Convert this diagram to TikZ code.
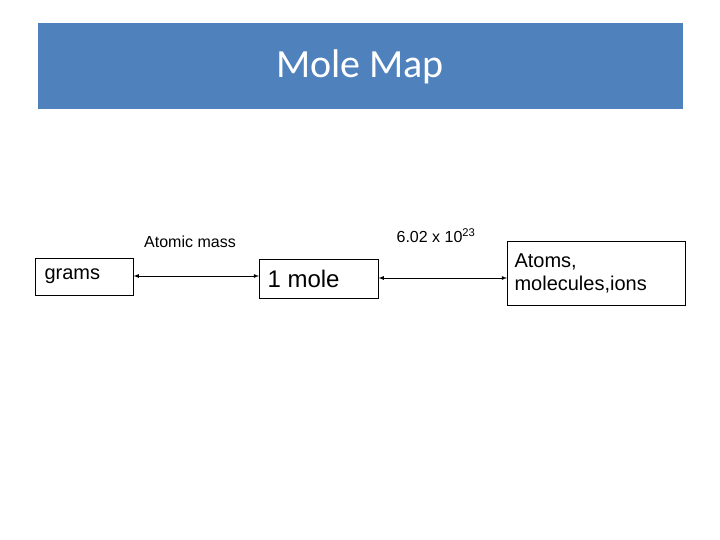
\documentclass[tikz,border=0pt]{standalone}
\usepackage{fontspec}
\setmainfont{Liberation Sans}
\newfontfamily\titlefont{Carlito}
\definecolor{band}{HTML}{4F81BD}
\begin{document}
\begin{tikzpicture}[x=1pt,y=-1pt,
  box/.style={draw=black,line width=0.6pt,inner sep=0pt,anchor=north west},
  arr/.style={<->,>=latex,line width=0.8pt}]
\useasboundingbox (0,0) rectangle (720,540);
\fill[band] (38,23) rectangle (683,109);
\node[text=white,font=\titlefont\fontsize{40}{44}\selectfont] (title) at (360,67) {Mole Map};
\node[box,minimum width=98pt,minimum height=37pt] (grams) at (35,258) {};
\node[font=\fontsize{20}{22}\selectfont,anchor=west] at (41,276) {grams};
\node[box,minimum width=119pt,minimum height=39pt] (mole) at (259,259) {};
\node[font=\fontsize{24}{26}\selectfont,anchor=west] at (264,279) {1 mole};
\node[box,minimum width=178pt,minimum height=64pt] (atoms) at (507,241) {};
\node[font=\fontsize{20}{23}\selectfont,align=left,anchor=west] at (511,273) {Atoms,\\molecules,ions};
\draw[arr] (grams.east |- 0,276) -- (mole.west |- 0,276);
\draw[arr] (mole.east |- 0,278) -- (atoms.west |- 0,278);
\node[font=\fontsize{16}{18}\selectfont] (am) at (190,242) {Atomic mass};
\node[font=\fontsize{16}{18}\selectfont] (av) at (436,236) {6.02 x 10\textsuperscript{23}};
\end{tikzpicture}
\end{document}
